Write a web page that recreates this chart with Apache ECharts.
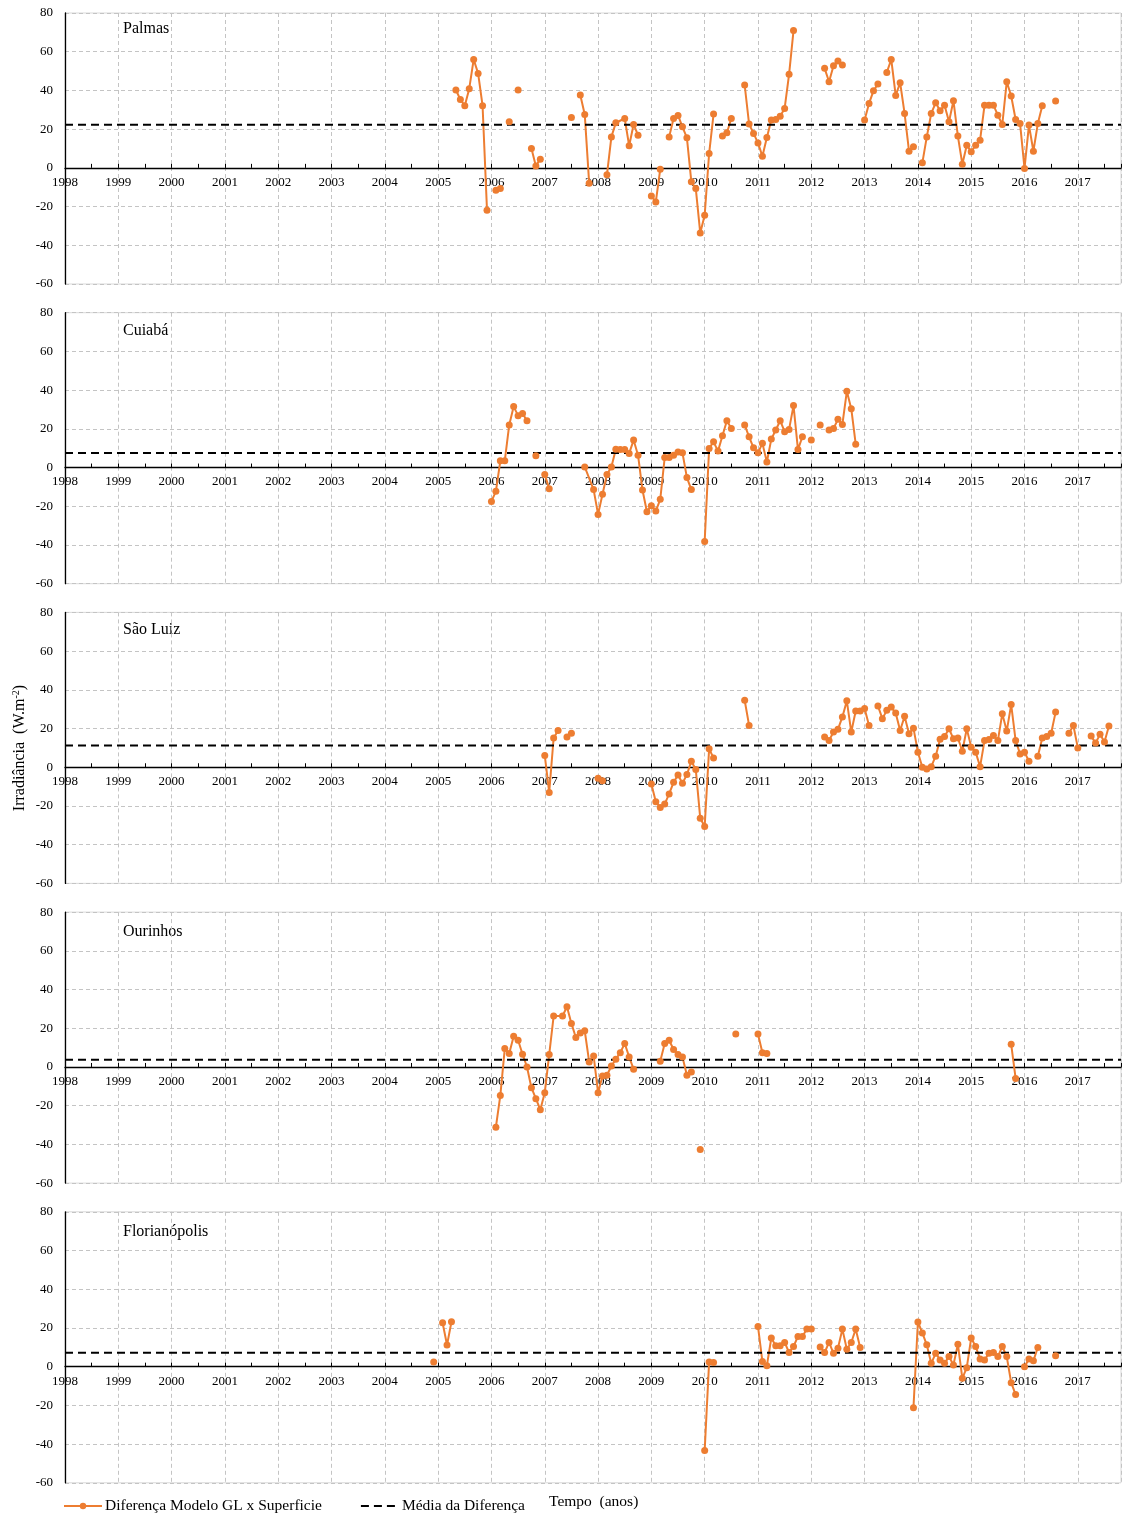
<!DOCTYPE html>
<html><head><meta charset="utf-8">
<script src="https://cdn.jsdelivr.net/npm/echarts@6/dist/echarts.min.js"></script>
<style>html,body{margin:0;padding:0;background:#fff}#c{width:1124px;height:1517px}</style>
</head><body><div id="c"></div>
<script>
const stations = ['Palmas', 'Cuiabá', 'São Luiz', 'Ourinhos', 'Florianópolis'];
const meanDiff = [22.3, 7.5, 11.3, 3.7, 7.2];
const yTicks = [-60, -40, -20, 0, 20, 40, 60, 80];
const seriesName = 'Diferença Modelo GL x Superficie';
const meanName = 'Média da Diferença';

const palmasData = [
['2005-05',40.2],['2005-06',35.3],['2005-07',32.1],['2005-08',40.9],['2005-09',56.0],['2005-10',48.8],['2005-11',32.1],['2005-12',-21.9],['2006-01',null],
['2006-02',-11.6],['2006-03',-10.7],['2006-04',null],['2006-05',23.8],['2006-06',null],['2006-07',40.2],['2006-08',null],
['2006-10',10.0],['2006-11',1.0],['2006-12',4.5],['2007-01',null],['2007-07',26.0],['2007-08',null],
['2007-09',37.6],['2007-10',27.6],['2007-11',-8.0],['2007-12',null],
['2008-03',-3.6],['2008-04',16.0],['2008-05',23.3],['2008-07',25.5],['2008-08',11.4],['2008-09',22.4],['2008-10',16.9],['2008-11',null],
['2009-01',-14.5],['2009-02',-17.6],['2009-03',-0.7],['2009-04',null],
['2009-05',16.0],['2009-06',25.5],['2009-07',27.1],['2009-08',21.2],['2009-09',15.5],['2009-10',-7.2],['2009-11',-10.7],['2009-12',-33.6],
['2010-01',-24.5],['2010-02',7.4],['2010-03',27.8],['2010-04',null],['2010-05',16.4],['2010-06',18.1],['2010-07',25.5],['2010-08',null],
['2010-10',42.8],['2010-11',22.6],['2010-12',17.8],['2011-01',12.9],['2011-02',6.0],['2011-03',15.7],['2011-04',24.7],['2011-05',25.0],
['2011-06',26.7],['2011-07',30.7],['2011-08',48.3],['2011-09',70.9],['2011-10',null],
['2012-04',51.4],['2012-05',44.5],['2012-06',52.8],['2012-07',55.2],['2012-08',53.1],['2012-09',null],
['2013-01',24.7],['2013-02',33.3],['2013-03',39.8],['2013-04',43.3],['2013-05',null],['2013-06',49.3],['2013-07',56.0],['2013-08',37.4],
['2013-09',44.0],['2013-10',28.1],['2013-11',8.6],['2013-12',10.9],['2014-01',null],
['2014-02',2.6],['2014-03',16.0],['2014-04',28.1],['2014-05',33.6],['2014-06',29.5],['2014-07',32.4],['2014-08',23.8],['2014-09',34.7],
['2014-10',16.4],['2014-11',1.9],['2014-12',11.7],['2015-01',8.3],['2015-02',11.7],['2015-03',14.3],['2015-04',32.4],['2015-05',32.4],
['2015-06',32.4],['2015-07',27.2],['2015-08',22.4],['2015-09',44.5],['2015-10',37.1],['2015-11',25.0],['2015-12',22.9],
['2016-01',-0.3],['2016-02',22.1],['2016-03',8.6],['2016-04',22.9],['2016-05',32.1],['2016-06',null],['2016-08',34.5]
];

const cuiabaData = [
['2006-01',-17.5],['2006-02',-12.3],['2006-03',3.5],['2006-04',3.5],['2006-05',22.0],['2006-06',31.5],['2006-07',26.8],['2006-08',27.9],
['2006-09',24.2],['2006-10',null],['2006-11',6.1],['2006-12',null],['2007-01',-3.6],['2007-02',-10.9],['2007-03',null],
['2007-10',0.3],['2007-12',-11.4],['2008-01',-24.2],['2008-02',-13.8],['2008-03',-3.6],['2008-04',0.3],['2008-05',9.5],['2008-06',9.3],
['2008-07',9.3],['2008-08',7.3],['2008-09',14.2],['2008-10',6.4],['2008-11',-11.6],['2008-12',-22.8],
['2009-01',-19.7],['2009-02',-22.5],['2009-03',-16.4],['2009-04',5.2],['2009-05',5.2],['2009-06',6.4],['2009-07',8.1],['2009-08',7.6],
['2009-09',-5.2],['2009-10',-11.4],['2009-11',null],
['2010-01',-38.2],['2010-02',9.9],['2010-03',13.3],['2010-04',8.5],['2010-05',16.4],['2010-06',24.2],['2010-07',20.2],['2010-08',null],
['2010-10',22.0],['2010-11',15.9],['2010-12',10.2],['2011-01',7.6],['2011-02',12.5],['2011-03',2.9],['2011-04',14.7],['2011-05',19.4],
['2011-06',24.2],['2011-07',18.5],['2011-08',19.7],['2011-09',32.0],['2011-10',9.3],['2011-11',15.9],['2011-12',null],
['2012-01',14.2],['2012-02',null],['2012-03',22.0],['2012-04',null],
['2012-05',19.4],['2012-06',20.2],['2012-07',24.9],['2012-08',22.3],['2012-09',39.4],['2012-10',30.4],['2012-11',12.1]
];

const saoLuizData = [
['2007-01',6.1],['2007-02',-13.0],['2007-03',15.1],['2007-04',19.0],['2007-05',null],['2007-06',15.6],['2007-07',17.6],['2007-08',null],
['2008-01',-5.7],['2008-02',-7.0],['2008-03',null],
['2009-01',-8.7],['2009-02',-17.8],['2009-03',-20.8],['2009-04',-19.0],['2009-05',-13.8],['2009-06',-7.8],['2009-07',-4.0],['2009-08',-8.3],
['2009-09',-3.8],['2009-10',3.1],['2009-11',-1.2],['2009-12',-26.3],['2010-01',-30.6],['2010-02',9.5],['2010-03',4.8],['2010-04',null],
['2010-10',34.6],['2010-11',21.6],['2010-12',null],
['2012-04',15.6],['2012-05',13.8],['2012-06',18.2],['2012-07',19.6],['2012-08',26.0],['2012-09',34.3],['2012-10',18.2],['2012-11',29.1],
['2012-12',29.1],['2013-01',30.3],['2013-02',21.6],['2013-03',null],
['2013-04',31.7],['2013-05',25.1],['2013-06',29.4],['2013-07',31.1],['2013-08',28.0],['2013-09',19.0],['2013-10',26.3],['2013-11',17.3],
['2013-12',20.2],['2014-01',7.8],['2014-02',0.0],['2014-03',-0.9],['2014-04',0.3],['2014-05',5.7],['2014-06',14.5],['2014-07',15.9],
['2014-08',19.9],['2014-09',14.7],['2014-10',15.1],['2014-11',8.3],['2014-12',19.9],['2015-01',10.4],['2015-02',7.8],['2015-03',0.3],
['2015-04',13.8],['2015-05',14.4],['2015-06',16.4],['2015-07',13.8],['2015-08',27.7],['2015-09',18.7],['2015-10',32.4],['2015-11',13.8],
['2015-12',6.9],['2016-01',7.8],['2016-02',3.1],['2016-03',null],
['2016-04',5.7],['2016-05',15.1],['2016-06',15.9],['2016-07',17.6],['2016-08',28.5],['2016-09',null],
['2016-11',17.6],['2016-12',21.6],['2017-01',10.0],['2017-02',null],
['2017-04',16.1],['2017-05',12.5],['2017-06',17.0],['2017-07',13.0],['2017-08',21.3]
];

const ourinhosData = [
['2006-02',-31.1],['2006-03',-14.7],['2006-04',9.5],['2006-05',6.9],['2006-06',15.9],['2006-07',13.8],['2006-08',6.6],['2006-09',0.0],
['2006-10',-10.7],['2006-11',-16.4],['2006-12',-22.1],['2007-01',-13.3],['2007-02',6.4],['2007-03',26.3],['2007-05',26.3],['2007-06',31.1],
['2007-07',22.5],['2007-08',15.2],['2007-09',17.6],['2007-10',18.7],['2007-11',2.6],['2007-12',5.7],['2008-01',-13.3],['2008-02',-4.7],
['2008-03',-4.3],['2008-04',0.5],['2008-05',4.0],['2008-06',7.4],['2008-07',12.1],['2008-08',5.2],['2008-09',-1.2],['2008-10',null],
['2009-03',2.9],['2009-04',12.1],['2009-05',13.8],['2009-06',9.0],['2009-07',6.4],['2009-08',5.2],['2009-09',-4.3],['2009-10',-2.6],
['2009-11',null],['2009-12',-42.6],['2010-01',null],['2010-08',17.0],['2010-09',null],
['2011-01',17.0],['2011-02',7.3],['2011-03',6.9],['2011-04',null],
['2015-10',11.7],['2015-11',-5.9]
];

const florianopolisData = [
['2004-12',2.4],['2005-01',null],['2005-02',22.7],['2005-03',11.2],['2005-04',23.2],['2005-05',null],
['2010-01',-43.3],['2010-02',2.4],['2010-03',2.1],['2010-04',null],
['2011-01',20.8],['2011-02',2.6],['2011-03',0.5],['2011-04',14.8],['2011-05',10.8],['2011-06',10.8],['2011-07',12.5],['2011-08',7.3],
['2011-09',10.4],['2011-10',15.6],['2011-11',15.6],['2011-12',19.4],['2012-01',19.4],['2012-02',null],
['2012-03',10.1],['2012-04',7.3],['2012-05',12.5],['2012-06',6.9],['2012-07',9.5],['2012-08',19.4],['2012-09',9.0],['2012-10',12.5],
['2012-11',19.4],['2012-12',9.9],['2013-01',null],
['2013-12',-21.2],['2014-01',23.1],['2014-02',17.4],['2014-03',11.3],['2014-04',1.7],['2014-05',6.9],['2014-06',3.5],['2014-07',1.7],
['2014-08',5.2],['2014-09',0.9],['2014-10',11.6],['2014-11',-6.0],['2014-12',-0.5],['2015-01',14.8],['2015-02',10.4],['2015-03',4.0],
['2015-04',3.5],['2015-05',6.9],['2015-06',7.3],['2015-07',5.2],['2015-08',10.4],['2015-09',5.2],['2015-10',-8.3],['2015-11',-14.4],
['2015-12',null],['2016-01',0.0],['2016-02',4.0],['2016-03',3.1],['2016-04',9.9],['2016-05',null],['2016-08',5.6]
];

const stationData = [palmasData, cuiabaData, saoLuizData, ourinhosData, florianopolisData];

const X_MIN = 1998, X_MAX = 2017.81;
const FONT = '"Liberation Serif", "Times New Roman", serif';
const ORANGE = '#ED7D31';
const toYear = s => +s.slice(0, 4) + (+s.slice(5, 7) - 1) / 12;

const panelTop = i => 13 + 299.7 * i;
const panelH = 271;
const Y_MIN = yTicks[0], Y_MAX = yTicks[yTicks.length - 1];
// place the x axis at the zero line (shift up from the grid bottom)
const zeroOffset = -(0 - Y_MIN) / (Y_MAX - Y_MIN) * panelH;

const grids = [], xAxes = [], yAxes = [], series = [], graphics = [];
const titleY = [29, 331, 630, 932, 1232];
stations.forEach((name, i) => {
  grids.push({left: 65, right: 0, top: panelTop(i), height: panelH, show: true, borderColor: '#d9d9d9', borderWidth: 1, containLabel: false});
  xAxes.push({
    type: 'value', gridIndex: i, min: X_MIN, max: X_MAX, interval: 1, position: 'bottom', offset: zeroOffset,
    axisLine: {onZero: false, lineStyle: {color: '#000', width: 1.3}},
    axisTick: {show: true, inside: true, length: 4, lineStyle: {color: '#000'}},
    minorTick: {show: true, splitNumber: 2, length: 4, lineStyle: {color: '#000'}},
    axisLabel: {formatter: v => Number.isInteger(v) ? String(v) : '', fontFamily: FONT, fontSize: 13, color: '#000', margin: 8},
    splitLine: {show: true, lineStyle: {type: [4, 3], color: '#c4c4c4'}}
  });
  yAxes.push({
    type: 'value', gridIndex: i, min: Y_MIN, max: Y_MAX, interval: 20,
    axisLine: {show: true, onZero: false, lineStyle: {color: '#000', width: 1.3}},
    axisTick: {show: false},
    axisLabel: {fontFamily: FONT, fontSize: 13, color: '#000', margin: 12},
    splitLine: {show: true, lineStyle: {type: [4, 3], color: '#c4c4c4'}}
  });
  series.push({
    name: seriesName, type: 'line', xAxisIndex: i, yAxisIndex: i,
    data: stationData[i].map(d => [toYear(d[0]), d[1]]),
    symbol: 'circle', symbolSize: 7, showSymbol: true, connectNulls: false,
    lineStyle: {color: ORANGE, width: 2}, itemStyle: {color: ORANGE}, animation: false
  });
  series.push({
    name: meanName, type: 'line', xAxisIndex: i, yAxisIndex: i,
    data: [[X_MIN, meanDiff[i]], [X_MAX, meanDiff[i]]],
    symbol: 'none', lineStyle: {color: '#000', width: 2, type: [8, 5]}, itemStyle: {color: '#000'}, animation: false
  });
  graphics.push({type: 'text', x: 123, y: titleY[i], style: {text: name, fontFamily: FONT, fontSize: 16, fill: '#000', verticalAlign: 'middle'}});
});

graphics.push({
  type: 'text', x: 20, y: 748, rotation: Math.PI / 2,
  style: {text: 'Irradiância  (W.m{sup|-2})', fontFamily: FONT, fontSize: 16, fill: '#000', align: 'center', verticalAlign: 'middle',
    rich: {sup: {fontFamily: FONT, fontSize: 10, fill: '#000', verticalAlign: 'top', padding: [0, 0, 7, 0]}}}
});
graphics.push({type: 'text', x: 549, y: 1502, style: {text: 'Tempo  (anos)', fontFamily: FONT, fontSize: 15.5, fill: '#000', verticalAlign: 'middle'}});

const chart = echarts.init(document.getElementById('c'), null, {renderer: 'canvas'});
chart.setOption({
  animation: false,
  backgroundColor: '#fff',
  grid: grids, xAxis: xAxes, yAxis: yAxes, series: series,
  legend: {
    data: [seriesName, {name: meanName, itemStyle: {color: 'rgba(0,0,0,0)', borderWidth: 0}}],
    left: 63, top: 1498, itemWidth: 38, itemHeight: 8, itemGap: 38, padding: [0, 0, 0, 0],
    textStyle: {fontFamily: FONT, fontSize: 15.5, color: '#000', padding: [0, 0, 0, -2]}, selectedMode: false
  },
  graphic: graphics
});
</script>
</body></html>
